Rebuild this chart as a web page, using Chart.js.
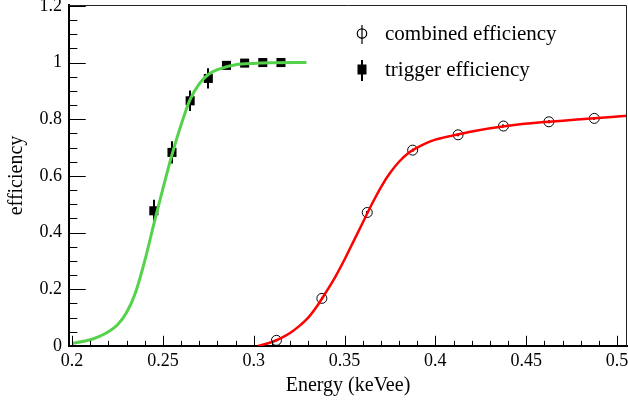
<!DOCTYPE html>
<html><head><meta charset="utf-8">
<script src="https://cdn.jsdelivr.net/npm/chart.js@4.4.0/dist/chart.umd.min.js"></script>
<style>html,body{margin:0;padding:0;background:#fff;}canvas{display:block;}</style>
</head><body>
<canvas id="c" width="628" height="405"></canvas>
<script>
// ---- axis ticks ----
const xTickValues = [0.2, 0.25, 0.3, 0.35, 0.4, 0.45, 0.5];
const xTickLabels = ['0.2', '0.25', '0.3', '0.35', '0.4', '0.45', '0.5'];
const yTickValues = [0, 0.2, 0.4, 0.6, 0.8, 1, 1.2];
const yTickLabels = ['0', '0.2', '0.4', '0.6', '0.8', '1', '1.2'];
const xRange = [0.1983, 0.5055];
const yRange = [0, 1.203];

// ---- trigger efficiency (filled squares) ----
const trigX = [0.245, 0.255, 0.265, 0.275, 0.285, 0.295, 0.305, 0.315];
const trigY = [0.477, 0.683, 0.865, 0.944, 0.99, 0.998, 1.0, 1.0];
const trigErr = [0.039, 0.039, 0.036, 0.036, 0.012, 0.005, 0.004, 0.004];

// ---- combined efficiency (open circles) ----
const combX = [0.3125, 0.3375, 0.3625, 0.3875, 0.4125, 0.4375, 0.4625, 0.4875];
const combY = [0.02, 0.168, 0.471, 0.691, 0.745, 0.776, 0.791, 0.803];
const combErr = [0.003, 0.005, 0.005, 0.005, 0.005, 0.005, 0.005, 0.005];

// ---- trigger fit curve (green) ----
const greenX = [0.2, 0.21, 0.215, 0.22, 0.225, 0.23, 0.235, 0.24, 0.245, 0.25, 0.255, 0.26, 0.265, 0.27, 0.275, 0.28, 0.29, 0.30, 0.31, 0.329];
const greenY = [0.009, 0.022, 0.034, 0.05, 0.075, 0.118, 0.19, 0.30, 0.43, 0.555, 0.675, 0.78, 0.87, 0.925, 0.958, 0.975, 0.992, 0.997, 0.999, 1.0];

// ---- combined fit curve (red) ----
const redX = [0.3024, 0.31, 0.315, 0.32, 0.325, 0.33, 0.335, 0.34, 0.345, 0.35, 0.355, 0.36, 0.365, 0.37, 0.375, 0.38, 0.385, 0.39, 0.395, 0.40, 0.41, 0.42, 0.44, 0.46, 0.48, 0.5055];
const redY = [0.0, 0.014, 0.028, 0.046, 0.07, 0.10, 0.142, 0.192, 0.245, 0.305, 0.37, 0.435, 0.50, 0.56, 0.61, 0.65, 0.68, 0.70, 0.716, 0.728, 0.743, 0.757, 0.777, 0.790, 0.800, 0.812];

const FONT = 'Liberation Serif';
const pts = (xs, ys) => xs.map((x, i) => ({x: x, y: ys[i]}));

const decor = {
  id: 'decor',
  beforeDatasetsDraw(chart) {
    const ctx = chart.ctx, xs = chart.scales.x, ys = chart.scales.y;
    ctx.save();
    ctx.strokeStyle = '#000';
    ctx.lineWidth = 2;
    trigX.forEach((x, i) => {
      const px = Math.round(xs.getPixelForValue(x));
      ctx.beginPath();
      ctx.moveTo(px, ys.getPixelForValue(trigY[i] + trigErr[i]));
      ctx.lineTo(px, ys.getPixelForValue(trigY[i] - trigErr[i]));
      ctx.stroke();
    });
    combX.forEach((x, i) => {
      const px = Math.round(xs.getPixelForValue(x));
      ctx.beginPath();
      ctx.moveTo(px, ys.getPixelForValue(combY[i] + combErr[i]));
      ctx.lineTo(px, ys.getPixelForValue(combY[i] - combErr[i]));
      ctx.stroke();
    });
    ctx.restore();
  },
  afterDraw(chart) {
    const ctx = chart.ctx, xs = chart.scales.x, ys = chart.scales.y, a = chart.chartArea;
    ctx.save();
    // frame top/right
    ctx.strokeStyle = '#222';
    ctx.lineWidth = 1;
    ctx.beginPath();
    ctx.moveTo(a.left, a.top + 0.5); ctx.lineTo(a.right - 0.5, a.top + 0.5); ctx.lineTo(a.right - 0.5, a.bottom);
    ctx.stroke();
    // inward ticks
    ctx.strokeStyle = '#000';
    ctx.lineWidth = 1;
    ctx.beginPath();
    const yMaj = 0.03 * (a.right - a.left), xMaj = 0.03 * (a.bottom - a.top);
    for (let k = 0; k <= 24; k++) {
      const v = k * 0.05;
      const py = Math.round(ys.getPixelForValue(v)) + 0.5;
      if (py < a.top || py > a.bottom + 1) continue;
      const len = (k % 4 === 0) ? yMaj : yMaj / 2;
      ctx.moveTo(a.left, py); ctx.lineTo(a.left + len, py);
    }
    for (let k = 20; k <= 50; k++) {
      const v = k * 0.01;
      const px = Math.round(xs.getPixelForValue(v)) + 0.5;
      if (px < a.left || px > a.right) continue;
      const len = (k % 5 === 0) ? xMaj : xMaj / 2;
      ctx.moveTo(px, a.bottom); ctx.lineTo(px, a.bottom - len);
    }
    ctx.stroke();
    // legend
    const mx = 362;
    ctx.lineWidth = 1.2;
    ctx.beginPath(); ctx.moveTo(mx, 25); ctx.lineTo(mx, 44); ctx.stroke();
    ctx.beginPath(); ctx.arc(mx, 33.5, 4.7, 0, Math.PI * 2); ctx.stroke();
    ctx.lineWidth = 2;
    ctx.beginPath(); ctx.moveTo(mx, 60); ctx.lineTo(mx, 81); ctx.stroke();
    ctx.fillStyle = '#000';
    ctx.fillRect(mx - 4.5, 64.5, 9, 10);
    ctx.font = '21px "' + FONT + '"';
    ctx.textBaseline = 'alphabetic';
    ctx.textAlign = 'left';
    ctx.fillText('combined efficiency', 385, 40);
    ctx.fillText('trigger efficiency', 385, 76);
    ctx.restore();
  }
};

new Chart(document.getElementById('c'), {
  data: {
    datasets: [
      {type: 'line', label: 'trigger fit', data: pts(greenX, greenY), borderColor: '#55d24b', borderWidth: 3,
       pointRadius: 0, cubicInterpolationMode: 'monotone', fill: false, order: 0},
      {type: 'line', label: 'combined fit', data: pts(redX, redY), borderColor: '#ff0000', borderWidth: 2.5,
       pointRadius: 0, cubicInterpolationMode: 'monotone', fill: false, order: 0},
      {type: 'scatter', label: 'trigger efficiency', data: pts(trigX, trigY), pointStyle: 'rect', pointRadius: 6.4,
       backgroundColor: '#000', borderColor: '#000', borderWidth: 0, order: 1},
      {type: 'scatter', label: 'combined efficiency', data: pts(combX, combY), pointStyle: 'circle', pointRadius: 5,
       backgroundColor: 'rgba(0,0,0,0)', borderColor: '#000', borderWidth: 1, order: 1}
    ]
  },
  options: {
    responsive: false,
    animation: false,
    devicePixelRatio: 1,
    layout: {padding: {top: 5, right: 1, left: 0, bottom: 0}, autoPadding: false},
    plugins: {legend: {display: false}, tooltip: {enabled: false}},
    scales: {
      x: {
        type: 'linear', position: 'bottom', min: xRange[0], max: xRange[1],
        afterBuildTicks: s => { s.ticks = xTickValues.map(v => ({value: v})); },
        afterFit: s => { s.height = 59; s.paddingLeft = 0; s.paddingRight = 0; },
        grid: {display: false, drawTicks: false, tickLength: 0},
        border: {display: true, color: '#000', width: 2},
        ticks: {color: '#000', font: {family: FONT, size: 18}, padding: 4, maxRotation: 0, autoSkip: false,
                callback: (v, i) => xTickLabels[i]},
        title: {display: true, text: 'Energy (keVee)', color: '#000', font: {family: FONT, size: 20},
                padding: {top: 0, bottom: 7}}
      },
      y: {
        type: 'linear', position: 'left', min: yRange[0], max: yRange[1],
        afterBuildTicks: s => { s.ticks = yTickValues.map(v => ({value: v})); },
        afterFit: s => { s.width = 69; s.paddingTop = 0; s.paddingBottom = 0; },
        grid: {display: false, drawTicks: false, tickLength: 0},
        border: {display: true, color: '#000', width: 2},
        ticks: {color: '#000', font: {family: FONT, size: 18}, padding: 7, autoSkip: false,
                callback: (v, i) => yTickLabels[i]},
        title: {display: true, text: 'efficiency', color: '#000', font: {family: FONT, size: 20},
                padding: {top: 5, bottom: 0}}
      }
    }
  },
  plugins: [decor]
});
</script>
</body></html>
